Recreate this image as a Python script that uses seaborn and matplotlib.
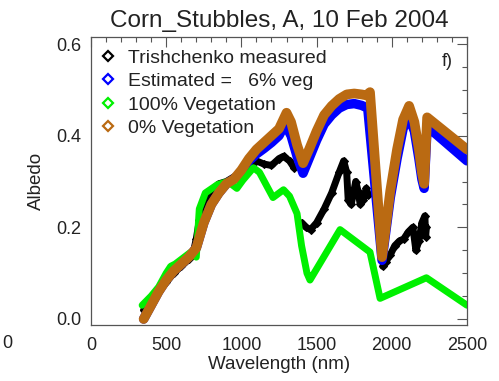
import matplotlib
matplotlib.use("Agg")
import matplotlib.pyplot as plt
from matplotlib.lines import Line2D
from matplotlib.ticker import MultipleLocator
import numpy as np
import pandas as pd
import seaborn as sns

# ---------------- data ----------------
title = "Corn_Stubbles, A, 10 Feb 2004"
series_labels = ["Trishchenko measured", "Estimated =   6% veg",
                 "100% Vegetation", "0% Vegetation"]

# measured (three segments separated by absorption gaps)
meas_wl_1 = [350, 400, 450, 500, 550, 600, 650, 680, 700, 720, 750, 800, 850, 900,
             950, 1000, 1050, 1100, 1150, 1200, 1250, 1280, 1320, 1350]
meas_al_1 = [0.02, 0.04, 0.06, 0.08, 0.10, 0.115, 0.13, 0.145, 0.175, 0.215, 0.255,
             0.28, 0.295, 0.30, 0.31, 0.32, 0.335, 0.345, 0.338, 0.335, 0.35, 0.355,
             0.345, 0.33]
meas_wl_2 = [1400, 1430, 1460, 1500, 1550, 1600, 1650, 1680, 1700, 1710, 1730, 1760,
             1775, 1790, 1810, 1830, 1845]
meas_al_2 = [0.21, 0.20, 0.195, 0.21, 0.24, 0.275, 0.32, 0.345, 0.32, 0.26, 0.25,
             0.30, 0.28, 0.25, 0.26, 0.285, 0.27]
meas_wl_3 = [1940, 1960, 1990, 2020, 2050, 2080, 2110, 2140, 2160, 2180, 2200, 2220,
             2225, 2230]
meas_al_3 = [0.115, 0.125, 0.14, 0.16, 0.17, 0.175, 0.19, 0.20, 0.15, 0.17, 0.21,
             0.225, 0.18, 0.20]

# estimated (6% vegetation)
est_wl = [350, 400, 450, 500, 550, 600, 650, 700, 750, 800, 850, 900, 950, 1000, 1050,
          1100, 1150, 1200, 1250, 1290, 1330, 1370, 1410, 1450, 1500, 1550, 1600, 1650,
          1700, 1750, 1800, 1840, 1935, 1990, 2035, 2075, 2110, 2150, 2180, 2200, 2215,
          2235, 2500]
est_al = [0.0, 0.03, 0.06, 0.085, 0.105, 0.12, 0.135, 0.155, 0.21, 0.25, 0.275, 0.295,
          0.305, 0.32, 0.345, 0.36, 0.372, 0.385, 0.40, 0.425, 0.40, 0.355, 0.318, 0.35,
          0.39, 0.425, 0.445, 0.46, 0.468, 0.47, 0.466, 0.46, 0.128, 0.265, 0.35, 0.415,
          0.443, 0.41, 0.35, 0.305, 0.285, 0.42, 0.345]

# 100% vegetation
veg_wl = [340, 400, 450, 500, 530, 560, 600, 660, 700, 720, 760, 840, 910, 970, 1010,
          1080, 1120, 1210, 1280, 1320, 1370, 1400, 1436, 1456, 1656, 1855, 1922, 2230,
          2500]
veg_al = [0.03, 0.05, 0.07, 0.10, 0.115, 0.12, 0.13, 0.145, 0.135, 0.24, 0.275, 0.293,
          0.30, 0.285, 0.303, 0.33, 0.32, 0.265, 0.282, 0.268, 0.23, 0.16, 0.10, 0.085,
          0.195, 0.146, 0.045, 0.09, 0.03]

# 0% vegetation
soil_wl = [350, 400, 450, 500, 550, 600, 650, 700, 750, 800, 850, 900, 950, 1000, 1050,
           1100, 1150, 1200, 1250, 1300, 1330, 1370, 1410, 1450, 1500, 1550, 1600, 1650,
           1700, 1750, 1800, 1830, 1855, 1935, 1990, 2035, 2075, 2115, 2150, 2180, 2200,
           2215, 2235, 2500]
soil_al = [0.0, 0.03, 0.06, 0.085, 0.105, 0.12, 0.135, 0.155, 0.21, 0.25, 0.275, 0.295,
           0.305, 0.325, 0.35, 0.37, 0.385, 0.40, 0.415, 0.45, 0.43, 0.38, 0.34, 0.37,
           0.41, 0.445, 0.465, 0.48, 0.49, 0.492, 0.49, 0.488, 0.495, 0.135, 0.28, 0.37,
           0.435, 0.465, 0.43, 0.37, 0.32, 0.295, 0.44, 0.37]

x_ticks = [0, 500, 1000, 1500, 2000, 2500]
y_ticks = [0.0, 0.2, 0.4, 0.6]

colors = ["black", "#0000FF", "#00F000", "#BA6A12"]

# ---------------- figure ----------------
sns.set_style("white")
plt.rcParams["font.family"] = ["Liberation Sans", "DejaVu Sans"]

fig = plt.figure(figsize=(4.99, 3.81), dpi=100)
ax = fig.add_axes([91 / 499, 1 - 325 / 381, (467 - 91) / 499, (325 - 37) / 381])

# measured
for wl, al in [(meas_wl_1, meas_al_1), (meas_wl_2, meas_al_2), (meas_wl_3, meas_al_3)]:
    sns.lineplot(x=wl, y=al, ax=ax, color=colors[0], lw=5, sort=False,
                 marker="D", markersize=4.5, markeredgecolor="black", legend=False)
sns.lineplot(x=est_wl, y=est_al, ax=ax, color=colors[1], lw=6.8, sort=False, legend=False)
sns.lineplot(x=veg_wl, y=veg_al, ax=ax, color=colors[2], lw=5, sort=False, legend=False)
sns.lineplot(x=soil_wl, y=soil_al, ax=ax, color=colors[3], lw=7, sort=False, legend=False)

ax.set_xlim(0, 2500)
ax.set_ylim(-0.0131, 0.6153)
ax.set_xticks(x_ticks)
ax.set_yticks(y_ticks)
ax.set_yticklabels([f"{v:.1f}" for v in y_ticks])
ax.xaxis.set_minor_locator(MultipleLocator(100))
ax.yaxis.set_minor_locator(MultipleLocator(0.05))
ax.tick_params(which="both", direction="in", top=True, right=True,
               color="#555555", width=0.8, labelsize=13, colors="#222222")
ax.tick_params(which="both", labelcolor="#222222")
ax.tick_params(which="major", length=7)
ax.tick_params(which="minor", length=3.5)
ax.tick_params(axis="x", pad=9)
ax.tick_params(axis="y", pad=7)
for s in ax.spines.values():
    s.set_color("#555555")
    s.set_linewidth(0.9)

ax.set_xlabel("Wavelength (nm)", fontsize=13.5, color="#222222", labelpad=1)
ax.set_ylabel("Albedo", fontsize=13.5, color="#222222", labelpad=8)
ax.set_title(title, fontsize=17.5, color="#222222", pad=7)

handles = [Line2D([], [], ls="none", marker="D", markersize=5.5, markerfacecolor="none",
                  markeredgecolor=c, markeredgewidth=1.6) for c in colors]
leg = ax.legend(handles, series_labels, loc="upper left", frameon=False,
                fontsize=14, handlelength=0.8, handletextpad=0.6, labelspacing=0.3,
                borderaxespad=0.0, bbox_to_anchor=(0.005, 0.985))
for t in leg.get_texts():
    t.set_color("#222222")

ax.text(2367, 0.561, "f)", fontsize=13, ha="center", va="center", color="#222222")
fig.text(7 / 499, 1 - 343 / 381, "0", fontsize=13, ha="center", va="center",
         color="#222222")

fig.savefig("out.png", dpi=100)
